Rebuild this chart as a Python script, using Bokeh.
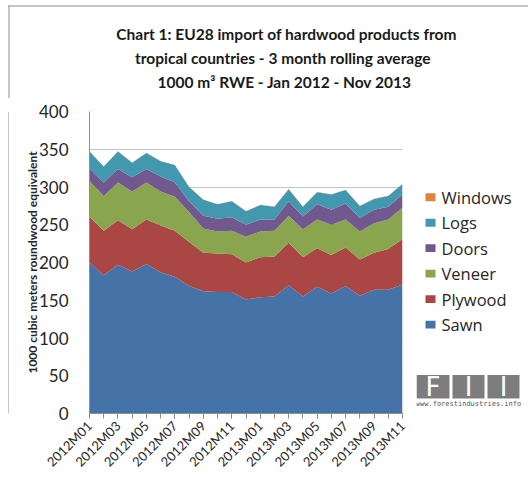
import numpy as np
from bokeh.plotting import figure
from bokeh.layouts import column, row
from bokeh.models import (ColumnDataSource, FixedTicker, Label, BoxAnnotation, Range1d)
from bokeh.embed import file_html
from bokeh.resources import INLINE

months = ["2012M01", "2012M02", "2012M03", "2012M04", "2012M05", "2012M06", "2012M07",
          "2012M08", "2012M09", "2012M10", "2012M11", "2012M12", "2013M01", "2013M02",
          "2013M03", "2013M04", "2013M05", "2013M06", "2013M07", "2013M08", "2013M09",
          "2013M10", "2013M11"]
sawn = [200, 183, 197, 188, 198, 187, 181, 169, 162, 161, 161, 151, 154, 155, 170, 155,
        168, 159, 169, 156, 164, 164, 171]
plywood = [61, 59, 59, 56, 59, 62, 61, 58, 51, 51, 50, 49, 53, 53, 56, 52, 51, 51, 51, 48,
           49, 54, 60]
veneer = [47, 46, 50, 50, 49, 45, 45, 40, 32, 29, 31, 34, 34, 34, 36, 37, 38, 40, 37, 37,
          39, 39, 42]
doors = [17, 18, 18, 19, 18, 20, 19, 14, 17, 17, 18, 16, 16, 15, 19, 17, 20, 20, 21, 18,
         18, 17, 17]
logs = [22, 21, 23, 19, 21, 20, 23, 19, 21, 19, 21, 18, 19, 17, 16, 13, 16, 20, 18, 16,
        14, 14, 14]
windows = [0.3, 0.3, 0.3, 0.3, 0.3, 0.3, 0.3, 0.3, 0.3, 0.3, 0.3, 0.3, 0.3, 0.3, 0.3, 0.3,
           0.3, 0.3, 0.3, 0.3, 0.3, 0.3, 0.3]

series_names = ["Sawn", "Plywood", "Veneer", "Doors", "Logs", "Windows"]
series_colors = ["#4572A7", "#AA4643", "#89A54E", "#71588F", "#4198AF", "#DB843D"]
y_ticks = [0, 50, 100, 150, 200, 250, 300, 350, 400]

title_lines = ["Chart 1: EU28 import of hardwood products from",
               "tropical countries -  3 month rolling  average",
               "1000 m\u00b3 RWE  - Jan 2012 - Nov 2013"]
logo_letters = ["F", "I", "I"]
logo_url = "www.forestindustries.info"

FONT = "Lato"
TXT = "#262626"
BORDER = "#8c8c8c"


def blank(w, h):
    f = figure(width=w, height=h, output_backend="svg", toolbar_location=None,
               x_axis_type=None, y_axis_type=None, min_border=0,
               x_range=Range1d(0, w), y_range=Range1d(0, h))
    f.outline_line_color = None
    f.background_fill_color = "white"
    f.border_fill_color = "white"
    return f


# ---------------- title strip ----------------
TW, TH = 528, 98
title_fig = blank(TW, TH)
for k, line in enumerate(title_lines):
    title_fig.add_layout(Label(x=286, y=TH - 33 - 24 * k, text=line, text_align="center",
                               text_baseline="middle", text_font=FONT,
                               text_font_style="bold", text_font_size="15.5px",
                               text_color="#1a1a1a"))
title_fig.add_layout(BoxAnnotation(left=8, right=TW, bottom=TH - 6, top=TH - 5,
                                   fill_color=BORDER, fill_alpha=1, line_color=None))
title_fig.add_layout(BoxAnnotation(left=8, right=9, bottom=0, top=TH - 5,
                                   fill_color=BORDER, fill_alpha=1, line_color=None))

# ---------------- left edge strip ----------------
EH = 482 - TH
edge_fig = blank(9, EH)
edge_fig.add_layout(BoxAnnotation(left=8, right=9, bottom=0, top=EH,
                                  fill_color=BORDER, fill_alpha=1, line_color=None))

# ---------------- main chart ----------------
x = list(range(len(months)))
source = ColumnDataSource(dict(x=x, Sawn=sawn, Plywood=plywood, Veneer=veneer,
                               Doors=doors, Logs=logs, Windows=windows))

p = figure(width=407, height=EH, output_backend="svg", toolbar_location=None,
           x_range=Range1d(0, len(months) - 1), y_range=Range1d(0, 400),
           min_border_left=80, min_border_right=14, min_border_top=111 - TH,
           min_border_bottom=69)
p.outline_line_color = None
p.background_fill_color = "white"
p.border_fill_color = "white"

renderers = p.varea_stack(stackers=series_names, x="x", color=series_colors, source=source)

p.xaxis.ticker = FixedTicker(ticks=x[::2], minor_ticks=x)
p.xaxis.major_label_overrides = {i: months[i] for i in x}
p.xaxis.major_label_orientation = np.pi / 4
p.xaxis.major_label_text_font = FONT
p.xaxis.major_label_text_font_size = "13px"
p.xaxis.major_label_text_color = TXT
p.xaxis.axis_line_color = "#8f8f8f"
p.xaxis.major_tick_line_color = "#8f8f8f"
p.xaxis.minor_tick_line_color = "#8f8f8f"
p.xaxis.major_tick_out = 5
p.xaxis.major_tick_in = 0
p.xaxis.minor_tick_out = 5
p.xaxis.minor_tick_in = 0
p.xaxis.major_label_standoff = 5

p.yaxis.ticker = FixedTicker(ticks=y_ticks)
p.yaxis.major_label_text_font = FONT
p.yaxis.major_label_text_font_size = "17px"
p.yaxis.major_label_text_color = TXT
p.yaxis.axis_line_color = "#8f8f8f"
p.yaxis.major_tick_line_color = None
p.yaxis.minor_tick_line_color = None
p.yaxis.major_tick_out = 0
p.yaxis.major_tick_in = 0
p.yaxis.major_label_standoff = 21
p.yaxis.axis_label = "1000 cubic meters roundwood equivalent"
p.yaxis.axis_label_text_font = FONT
p.yaxis.axis_label_text_font_style = "bold"
p.yaxis.axis_label_text_font_size = "12px"
p.yaxis.axis_label_text_color = TXT
p.yaxis.axis_label_standoff = -4

p.xgrid.grid_line_color = None
p.ygrid.grid_line_color = "#c4c4c4"
p.ygrid.grid_line_width = 1

# ---------------- legend + logo strip ----------------
SW = 112
side_fig = blank(SW, EH)
# legend rows (top row = last stacked series), page y of first row = 207, pitch 32.4
for k, i in enumerate(reversed(range(len(series_names)))):
    yc = 482 - (207 + 32.4 * k)
    side_fig.add_layout(BoxAnnotation(left=9, right=19, bottom=yc - 5, top=yc + 5,
                                      fill_color=series_colors[i], fill_alpha=1,
                                      line_color=None))
    side_fig.add_layout(Label(x=25, y=yc, text=series_names[i], text_align="left",
                              text_baseline="middle", text_font="Open Sans",
                              text_font_size="16.5px", text_color=TXT))

for (l, r_, ch) in zip([0, 36, 71], [33, 68, 103], logo_letters):
    side_fig.add_layout(BoxAnnotation(left=l, right=r_, bottom=19, top=49,
                                      fill_color="#7d7d7d", fill_alpha=1, line_color=None))
    side_fig.add_layout(Label(x=(l + r_) / 2, y=34, text=ch, text_align="center",
                              text_baseline="middle", text_color="white",
                              text_font="DejaVu Sans", text_font_size="26px"))
side_fig.add_layout(Label(x=52, y=12, text=logo_url, text_align="center",
                          text_baseline="middle", text_color="#555555",
                          text_font="DejaVu Sans Mono", text_font_size="7px"))

layout = column(title_fig, row(edge_fig, p, side_fig))
open("out.html", "w").write(file_html(layout, INLINE))
